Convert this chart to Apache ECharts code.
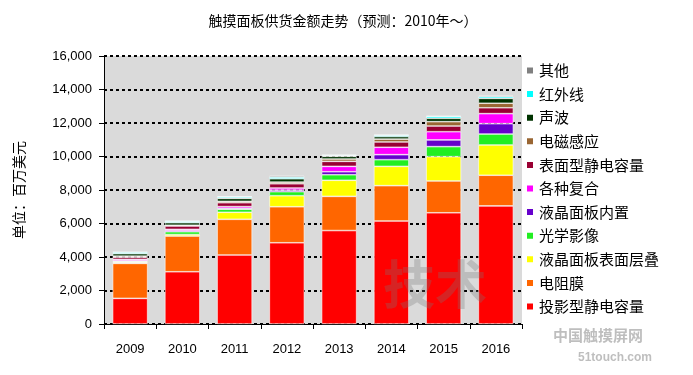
<!DOCTYPE html>
<html>
<head>
<meta charset="utf-8">
<script src="https://cdn.jsdelivr.net/npm/echarts@6/dist/echarts.min.js"></script>
<style>
  html, body { margin: 0; padding: 0; background: #fff; }
  #chart { width: 693px; height: 375px; }
</style>
</head>
<body>
<div id="chart"></div>
<script>
  // categories
  const years = ['2009', '2010', '2011', '2012', '2013', '2014', '2015', '2016'];

  // series values, bottom of the stack first (百万美元)
  const projCap   = [1530, 3120, 4120, 4850, 5580, 6150, 6640, 7050];
  const resistive = [2090, 2130, 2130, 2150, 2040, 2110, 1900, 1830];
  const lcdOnCell = [60, 90, 420, 660, 960, 1150, 1450, 1810];
  const optical   = [50, 170, 180, 240, 330, 400, 600, 650];
  const inCell    = [40, 60, 60, 90, 180, 300, 400, 620];
  const hybrid    = [90, 80, 100, 130, 320, 440, 490, 600];
  const surfCap   = [130, 200, 230, 250, 300, 320, 340, 350];
  const emr       = [60, 50, 80, 100, 140, 170, 260, 270];
  const acoustic  = [150, 150, 180, 200, 160, 150, 200, 290];
  const infrared  = [80, 80, 80, 100, 60, 80, 110, 100];
  const others    = [50, 30, 40, 80, 30, 30, 30, 60];

  const yTicks = [0, 2000, 4000, 6000, 8000, 10000, 12000, 14000, 16000];

  const seriesDefs = [
    { name: '投影型静电容量', data: projCap, color: '#FF0000' },
    { name: '电阻膜', data: resistive, color: '#FF6600' },
    { name: '液晶面板表面层叠', data: lcdOnCell, color: '#FFFF00' },
    { name: '光学影像', data: optical, color: '#22EE22' },
    { name: '液晶面板内置', data: inCell, color: '#6600CC' },
    { name: '各种复合', data: hybrid, color: '#FF00FF' },
    { name: '表面型静电容量', data: surfCap, color: '#990033' },
    { name: '电磁感应', data: emr, color: '#996633' },
    { name: '声波', data: acoustic, color: '#003300' },
    { name: '红外线', data: infrared, color: '#00FFFF' },
    { name: '其他', data: others, color: '#808080' }
  ];

  const chart = echarts.init(document.getElementById('chart'));

  const font = 'Liberation Sans, Arial, "Noto Sans CJK SC", sans-serif';
  const cjk = '"Noto Sans CJK SC", sans-serif';

  chart.setOption({
    animation: false,
    title: {
      text: '触摸面板供货金额走势（预测：2010年～）',
      left: 338,
      textAlign: 'center',
      top: 9,
      textStyle: { fontFamily: cjk, fontSize: 14, fontWeight: 'normal', color: '#000' }
    },
    legend: {
      orient: 'vertical',
      left: 520,
      top: 58,
      itemWidth: 8,
      itemHeight: 8,
      itemGap: 8.6,
      icon: 'rect',
      data: seriesDefs.map(s => s.name).reverse(),
      textStyle: { fontFamily: cjk, fontSize: 15, color: '#000' }
    },
    grid: {
      left: 104,
      right: 171,
      top: 56,
      bottom: 51,
      show: true,
      backgroundColor: '#DADADA',
      borderWidth: 0
    },
    graphic: [
      {
        type: 'text', left: 383, top: 258, silent: true, z: 100,
        style: { text: '技术', fontFamily: cjk, fontSize: 52, fontWeight: 'bold', fill: 'rgba(120,120,120,0.3)' }
      },
      {
        type: 'text', left: 553, top: 328, silent: true, z: 100,
        style: { text: '中国触摸屏网', fontFamily: cjk, fontSize: 15, fontWeight: 'bold', fill: 'rgba(110,110,110,0.45)' }
      },
      {
        type: 'text', left: 578, top: 352, silent: true, z: 100,
        style: { text: '51touch.com', fontFamily: font, fontSize: 12, fontWeight: 'bold', fill: 'rgba(110,110,110,0.45)' }
      }
    ],
    xAxis: {
      type: 'category',
      data: years,
      axisLine: { lineStyle: { color: '#000', width: 1 } },
      axisTick: { show: true, length: 5, lineStyle: { color: '#000' } },
      axisLabel: { fontFamily: font, fontSize: 13, color: '#000', margin: 19 }
    },
    yAxis: {
      type: 'value',
      min: yTicks[0],
      max: yTicks[yTicks.length - 1],
      interval: 2000,
      name: '单位：百万美元',
      nameLocation: 'middle',
      nameRotate: 90,
      nameGap: 78,
      nameTextStyle: { fontFamily: cjk, fontSize: 14, color: '#000' },
      axisLine: { show: true, lineStyle: { color: '#000', width: 1 } },
      axisTick: { show: true, length: 5, lineStyle: { color: '#000' } },
      axisLabel: {
        fontFamily: font, fontSize: 13, color: '#000', margin: 12,
        formatter: v => v.toLocaleString('en-US')
      },
      splitLine: {
        show: true,
        lineStyle: { color: '#000', width: 2, type: [3, 3] }
      }
    },
    series: seriesDefs.map(s => ({
      name: s.name,
      type: 'bar',
      stack: 'total',
      barCategoryGap: '33%',
      data: s.data,
      itemStyle: { color: s.color, borderColor: '#FFFFFF', borderWidth: 0.6 }
    }))
  });
</script>
</body>
</html>
